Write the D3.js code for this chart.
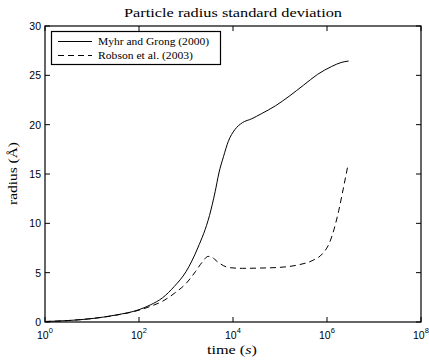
<!DOCTYPE html>
<html>
<head>
<meta charset="utf-8">
<script src="https://cdn.jsdelivr.net/npm/d3@7"></script>
<style>
    body { margin: 0; background: #fff; }
    svg { display: block; }
    .tick-label { font-family: 'Liberation Sans', Arial, sans-serif; font-size: 10.5px; fill: #000; }
    .serif { font-family: 'Liberation Serif', 'DejaVu Serif', serif; fill: #000; }
</style>
</head>
<body>
<svg id="chart" width="429" height="360"></svg>
<script>
// time is kept as log10(t) in seconds
let myhr_logt = [0, 0.5, 1, 1.5, 2, 2.25, 2.5, 2.75, 3, 3.25, 3.5, 3.62, 3.7, 3.8, 3.9, 4.04, 4.2, 4.4, 4.6, 4.9, 5.2, 5.5, 5.8, 6.1, 6.3, 6.46]
let myhr_r    = [0.05, 0.15, 0.35, 0.7, 1.25, 1.75, 2.45, 3.6, 5.1, 7.5, 10.8, 13.2, 15.1, 16.8, 18.3, 19.5, 20.2, 20.6, 21.1, 21.9, 22.9, 24.0, 25.1, 25.9, 26.3, 26.45]

let robson_logt = [0, 0.5, 1, 1.5, 2, 2.25, 2.5, 2.75, 3, 3.2, 3.35, 3.47, 3.55, 3.62, 3.7, 3.8, 3.95, 4.2, 4.6, 5.0, 5.4, 5.7, 5.9, 6.05, 6.15, 6.25, 6.35, 6.45]
let robson_r    = [0.05, 0.15, 0.35, 0.68, 1.2, 1.6, 2.1, 2.9, 3.9, 5.1, 6.1, 6.65, 6.6, 6.3, 6.0, 5.7, 5.5, 5.44, 5.47, 5.54, 5.8, 6.25, 6.9, 8.0, 9.4, 11.3, 13.6, 16.0]

let x_ticks = [0, 2, 4, 6, 8]
let y_ticks = [0, 5, 10, 15, 20, 25, 30]

let legend_names = ['Myhr and Grong (2000)', 'Robson et al. (2003)']
let legend_widths = [111, 95]   // text is wider in the original (Computer Modern)

let pad = { 'l': 45, 'r': 8, 't': 26, 'b': 38 }
let width = 429
let height = 360

let svg = d3.select('#chart')

let x = d3.scaleLog()
    .domain([1, 1e8])
    .range([pad.l, width - pad.r])
let y = d3.scaleLinear()
    .domain([0, 30])
    .range([height - pad.b, pad.t])

let tick_len = 5
let x0 = x.range()[0], x1 = x.range()[1]
let y0 = y.range()[0], y1 = y.range()[1]

// ticks, inward on all four sides
x_ticks.forEach(e => {
    let px = x(Math.pow(10, e))
    svg.append('line').attr('x1', px).attr('x2', px).attr('y1', y0).attr('y2', y0 - tick_len)
        .attr('stroke', '#000').attr('stroke-width', 1)
    svg.append('line').attr('x1', px).attr('x2', px).attr('y1', y1).attr('y2', y1 + tick_len)
        .attr('stroke', '#000').attr('stroke-width', 1)
    let t = svg.append('text').attr('class', 'tick-label')
        .attr('x', px - 3).attr('y', y0 + 17)
        .attr('text-anchor', 'start')
    t.append('tspan').text('10').attr('dx', -5)
    t.append('tspan').text(e).attr('dy', -6).style('font-size', '7.5px')
})

y_ticks.forEach(v => {
    let py = y(v)
    svg.append('line').attr('x1', x0).attr('x2', x0 + tick_len).attr('y1', py).attr('y2', py)
        .attr('stroke', '#000').attr('stroke-width', 1)
    svg.append('line').attr('x1', x1).attr('x2', x1 - tick_len).attr('y1', py).attr('y2', py)
        .attr('stroke', '#000').attr('stroke-width', 1)
    svg.append('text').attr('class', 'tick-label')
        .attr('x', x0 - 4).attr('y', py + 4)
        .attr('text-anchor', 'end')
        .text(v)
})

let line = d3.line()
    .x(d => x(Math.pow(10, d[0])))
    .y(d => y(d[1]))
    .curve(d3.curveMonotoneX)

svg.append('path')
    .datum(d3.zip(myhr_logt, myhr_r))
    .attr('d', line)
    .attr('fill', 'none')
    .attr('stroke', '#000')
    .attr('stroke-width', 1)

svg.append('path')
    .datum(d3.zip(robson_logt, robson_r))
    .attr('d', line)
    .attr('fill', 'none')
    .attr('stroke', '#000')
    .attr('stroke-width', 1)
    .attr('stroke-dasharray', '6,4')

// axes box
svg.append('rect')
    .attr('x', x0).attr('y', y1)
    .attr('width', x1 - x0).attr('height', y0 - y1)
    .attr('fill', 'none').attr('stroke', '#000').attr('stroke-width', 1.2)

// legend
let leg = svg.append('g')
leg.append('rect')
    .attr('x', 51.5).attr('y', 31.5).attr('width', 169).attr('height', 33)
    .attr('fill', '#fff').attr('stroke', '#000').attr('stroke-width', 1.2)
legend_names.forEach((name, i) => {
    let ly = 41.5 + i * 14
    leg.append('line').attr('x1', 58).attr('x2', 92).attr('y1', ly).attr('y2', ly)
        .attr('stroke', '#000').attr('stroke-width', 1)
        .attr('stroke-dasharray', i === 1 ? '6,4' : null)
    leg.append('text').attr('class', 'serif')
        .attr('x', 98).attr('y', ly + 3.5)
        .style('font-size', '10.5px')
        .attr('textLength', legend_widths[i])
        .attr('lengthAdjust', 'spacingAndGlyphs')
        .text(name)
})

// title and axis labels
svg.append('text').attr('class', 'serif')
    .attr('x', 124).attr('y', 17)
    .style('font-size', '12.5px')
    .attr('textLength', 218)
    .attr('lengthAdjust', 'spacingAndGlyphs')
    .text('Particle radius standard deviation')

let xl = svg.append('text').attr('class', 'serif')
    .attr('x', 207).attr('y', 354)
    .style('font-size', '12.5px')
    .attr('textLength', 50)
    .attr('lengthAdjust', 'spacingAndGlyphs')
xl.append('tspan').text('time (')
xl.append('tspan').text('s').style('font-style', 'italic')
xl.append('tspan').text(')')

svg.append('text').attr('class', 'serif')
    .attr('transform', 'translate(17, 205) rotate(-90)')
    .style('font-size', '12.5px')
    .attr('textLength', 63)
    .attr('lengthAdjust', 'spacingAndGlyphs')
    .text('radius (Å)')
</script>
</body>
</html>
